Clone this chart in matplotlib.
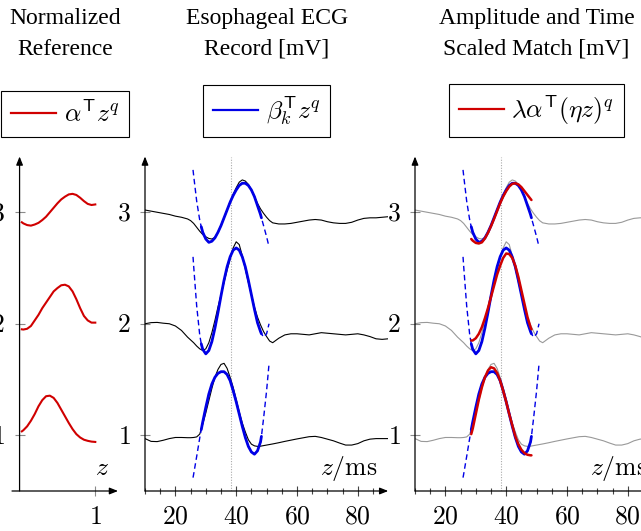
import matplotlib
matplotlib.use('Agg')
import matplotlib.pyplot as plt
from matplotlib.lines import Line2D

plt.rcParams['font.family'] = ['Liberation Serif', 'DejaVu Serif']
plt.rcParams['mathtext.fontset'] = 'cm'

# ---- data ----
# normalized reference curves (left panel), z in [0, 1]
z_ref = [0.03, 0.05, 0.1, 0.15, 0.2, 0.25, 0.3, 0.35, 0.4, 0.45, 0.5,
         0.55, 0.6, 0.65, 0.7, 0.75, 0.8, 0.85, 0.9, 0.95, 1.0]
ref_1 = [1.035, 1.045, 1.08, 1.13, 1.19, 1.26, 1.315, 1.35, 1.355, 1.335, 1.29,
         1.23, 1.17, 1.11, 1.055, 1.01, 0.98, 0.96, 0.95, 0.943, 0.94]
ref_2 = [1.95, 1.948, 1.955, 1.98, 2.03, 2.08, 2.14, 2.19, 2.24, 2.29, 2.32,
         2.345, 2.35, 2.335, 2.29, 2.22, 2.14, 2.07, 2.03, 2.01, 2.01]
ref_3 = [2.91, 2.90, 2.885, 2.88, 2.89, 2.905, 2.93, 2.96, 3.00, 3.04, 3.08,
         3.115, 3.14, 3.16, 3.165, 3.155, 3.13, 3.10, 3.075, 3.065, 3.07]

# esophageal ECG records [mV], time in ms
t_ecg = [10, 12, 14, 16, 18, 20, 22, 24,
         25, 26, 27, 28, 29, 30, 31, 32, 33, 34, 35, 36, 37, 38, 39, 40,
         41, 42, 43, 44, 45, 46, 47, 48, 49, 50, 51, 52,
         54, 56, 58, 60, 62, 64, 66, 68, 70, 72, 74, 76, 78, 80, 82, 84, 86, 88, 90]
ecg_1 = [0.97, 0.945, 0.943, 0.955, 0.97, 0.98, 0.98, 0.978,
         0.978, 0.98, 0.985, 1.01, 1.10, 1.20, 1.31, 1.42, 1.52, 1.59, 1.635, 1.645, 1.60, 1.52, 1.43, 1.32,
         1.21, 1.11, 1.03, 0.96, 0.92, 0.905, 0.90, 0.902, 0.907, 0.912, 0.917, 0.922,
         0.933, 0.945, 0.956, 0.967, 0.977, 0.987, 0.99, 0.98, 0.965, 0.95, 0.93, 0.912, 0.912, 0.925, 0.95, 0.965, 0.97, 0.97, 0.97]
ecg_2 = [2.00, 2.01, 2.012, 2.005, 2.00, 1.98, 1.94, 1.88,
         1.855, 1.83, 1.80, 1.775, 1.76, 1.775, 1.83, 1.92, 2.03, 2.15, 2.26, 2.37, 2.48, 2.58, 2.68, 2.735,
         2.71, 2.61, 2.49, 2.37, 2.26, 2.15, 2.06, 1.99, 1.93, 1.885, 1.845, 1.83,
         1.87, 1.90, 1.91, 1.91, 1.905, 1.90, 1.91, 1.92, 1.915, 1.91, 1.905, 1.90, 1.905, 1.91, 1.90, 1.885, 1.865, 1.86, 1.865]
ecg_3 = [3.02, 3.01, 3.00, 2.99, 2.98, 2.965, 2.955, 2.94,
         2.925, 2.90, 2.865, 2.83, 2.80, 2.78, 2.765, 2.76, 2.775, 2.82, 2.88, 2.95, 3.02, 3.095, 3.16, 3.22,
         3.27, 3.29, 3.28, 3.25, 3.20, 3.14, 3.08, 3.03, 2.99, 2.955, 2.925, 2.905,
         2.895, 2.895, 2.90, 2.91, 2.92, 2.93, 2.935, 2.93, 2.915, 2.905, 2.90, 2.90, 2.91, 2.93, 2.945, 2.95, 2.95, 2.955, 2.96]

# polynomial fits beta_k^T z^q (dashed outside the window)
t_fit = [25.8, 26, 27, 28, 28.5, 29, 30, 31, 32, 33, 34, 35, 36, 37, 38, 39,
         40, 41, 42, 43, 44, 45, 46, 47, 48, 48.3, 49, 50, 50.8]
fit_1 = [0.62, 0.65, 0.81, 0.975, 1.05, 1.12, 1.25, 1.37, 1.46, 1.52, 1.555, 1.57, 1.57, 1.545, 1.49, 1.40,
         1.30, 1.19, 1.08, 0.98, 0.90, 0.85, 0.83, 0.86, 0.94, 0.99, 1.15, 1.40, 1.64]
fit_2 = [2.60, 2.52, 2.16, 1.90, 1.82, 1.77, 1.73, 1.76, 1.84, 1.96, 2.10, 2.25, 2.39, 2.51, 2.60, 2.66,
         2.68, 2.66, 2.60, 2.51, 2.39, 2.26, 2.13, 2.01, 1.93, 1.91, 1.88, 1.91, 2.00]
fit_3 = [3.38, 3.33, 3.10, 2.93, 2.87, 2.82, 2.76, 2.73, 2.74, 2.77, 2.82, 2.88, 2.95, 3.02, 3.09, 3.15,
         3.20, 3.24, 3.26, 3.26, 3.24, 3.20, 3.14, 3.06, 2.98, 2.95, 2.88, 2.78, 2.69]
fit_lo, fit_hi = 28.5, 48.3

# amplitude and time scaled reference
t_match = [28.5, 29, 30, 31, 32, 33, 34, 35, 36, 37, 38, 39, 40, 41, 42, 43, 44, 45, 46, 47, 48, 48.3]
match_1 = [1.01, 1.06, 1.19, 1.32, 1.43, 1.52, 1.58, 1.61, 1.60, 1.56, 1.49, 1.40, 1.30, 1.19, 1.09,
           0.99, 0.92, 0.87, 0.84, 0.825, 0.82, 0.82]
match_2 = [1.85, 1.85, 1.87, 1.91, 1.97, 2.05, 2.14, 2.24, 2.34, 2.44, 2.52, 2.59, 2.63, 2.625, 2.59,
           2.52, 2.42, 2.30, 2.18, 2.06, 1.97, 1.95]
match_3 = [2.76, 2.745, 2.725, 2.72, 2.73, 2.765, 2.815, 2.875, 2.94, 3.01, 3.08, 3.14, 3.19, 3.23, 3.255,
           3.26, 3.25, 3.225, 3.19, 3.155, 3.12, 3.11]

t_marker = 38.3
y_ticks = [1, 2, 3]
t_major = [20, 40, 60, 80]
t_minor = [10, 15, 25, 30, 35, 45, 50, 55, 65, 70, 75, 85]

RED = '#d00000'
BLUE = '#0000e6'
GRAY = '#999999'

W, H = 641, 531
fig = plt.figure(figsize=(W / 100, H / 100), dpi=100)


def add_ax(x0, x1):
    return fig.add_axes([x0 / W, 1 - 491 / H, (x1 - x0) / W, 334.5 / H])


def style(ax, xlim, y_at):
    ax.set_xlim(*xlim)
    ax.set_ylim(0.5, 3.5)
    for s in ax.spines.values():
        s.set_visible(False)
    ax.spines['left'].set_position(('data', y_at))
    ap = dict(arrowstyle='-|>,head_length=0.5,head_width=0.2', lw=0.9, color='k',
              shrinkA=0, shrinkB=0, mutation_scale=10)
    ax.annotate('', xy=(xlim[1], 0.5), xytext=(xlim[0], 0.5), arrowprops=ap, annotation_clip=False)
    ax.annotate('', xy=(y_at, 3.5), xytext=(y_at, 0.5), arrowprops=ap, annotation_clip=False)
    ax.set_yticks(y_ticks, ['$%d$' % v for v in y_ticks])
    ax.tick_params(axis='y', direction='inout', length=7, width=0.8, color='#8a8a8a',
                   pad=7, labelsize=18.5)
    ax.tick_params(axis='x', which='both', direction='inout', width=0.8, color='#444444',
                   pad=8, labelsize=18.5)
    ax.tick_params(axis='x', which='major', length=7)
    ax.tick_params(axis='x', which='minor', length=4.5)


def head(ax, title, label, color):
    ax.text(0.5, 1.366, title, transform=ax.transAxes, ha='center', va='center',
            fontsize=17, linespacing=1.6, multialignment='center')
    leg = ax.legend(handles=[Line2D([], [], color=color, lw=1.6)], labels=[label],
                    loc='lower center', bbox_to_anchor=(0.5, 1.058), bbox_transform=ax.transAxes,
                    frameon=True, fancybox=False, edgecolor='k', framealpha=1, fontsize=18.5,
                    handlelength=1.75, handletextpad=0.3, borderpad=0.38, borderaxespad=0)
    leg.get_frame().set_linewidth(0.8)


# ---- left: normalized reference ----
ax1 = add_ax(12, 118)
style(ax1, (-0.1, 1.3), 0)
ax1.set_xticks([1], ['$1$'])
ax1.tick_params(axis='x', color='#8a8a8a')
for r in (ref_1, ref_2, ref_3):
    ax1.plot(z_ref, r, color=RED, lw=1.5)
ax1.text(1.09, 0.70, '$z$', ha='center', va='center', fontsize=18.5)
head(ax1, 'Normalized\nReference', r'$\alpha^{\mathsf{T}} z^q$', RED)

# ---- middle and right ----
ax2 = add_ax(145, 388.2)
ax3 = add_ax(415, 658.2)
for ax, ecg_col in ((ax2, 'k'), (ax3, GRAY)):
    style(ax, (10, 90), 10)
    ax.set_xticks(t_major, ['$%d$' % v for v in t_major])
    ax.set_xticks(t_minor, minor=True)
    ax.axvline(t_marker, color='#aaaaaa', lw=0.8, ls=(0, (1, 1.4)), zorder=1)
    for e in (ecg_1, ecg_2, ecg_3):
        ax.plot(t_ecg, e, color=ecg_col, lw=0.8, zorder=2)
    for f in (fit_1, fit_2, fit_3):
        ax.plot(t_fit, f, color=BLUE, lw=1.0, dashes=(4, 2.5), zorder=3)
        tt = [t for t in t_fit if fit_lo <= t <= fit_hi]
        ff = [v for t, v in zip(t_fit, f) if fit_lo <= t <= fit_hi]
        ax.plot(tt, ff, color=BLUE, lw=2.0, zorder=4, solid_capstyle='round')
    ax.text(86.6, 0.70, r'$z/\mathrm{ms}$', ha='right', va='center', fontsize=18.5)

for m in (match_1, match_2, match_3):
    ax3.plot(t_match, m, color=RED, lw=1.8, zorder=5, solid_capstyle='round')

head(ax2, 'Esophageal ECG\nRecord [mV]', r'$\beta_k^{\mathsf{T}} z^q$', BLUE)
head(ax3, 'Amplitude and Time\nScaled Match [mV]', r'$\lambda\alpha^{\mathsf{T}}(\eta z)^q$', RED)

fig.savefig('out.png', dpi=100)
